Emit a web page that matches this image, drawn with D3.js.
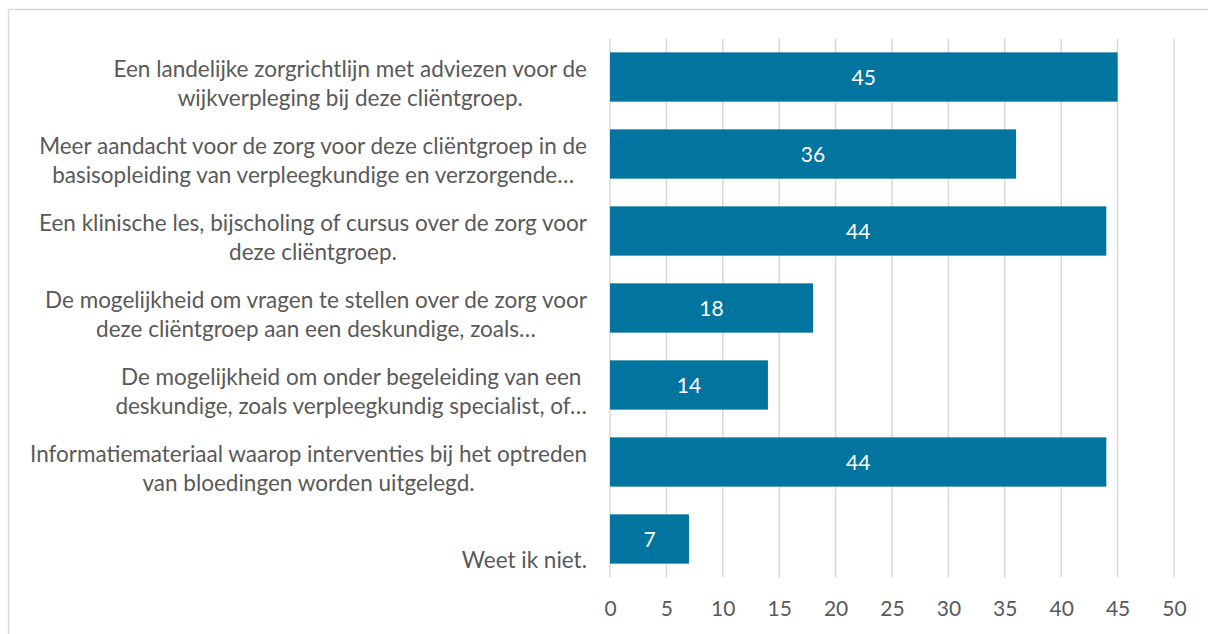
<!DOCTYPE html>
<html>
<head>
<meta charset="utf-8">
<script src="https://cdn.jsdelivr.net/npm/d3@7"></script>
<style>
  body { margin: 0; background: #fff; }
  text { font-family: Lato, "Open Sans", sans-serif; }
</style>
</head>
<body>
<div id="chart"></div>
<script>
// categories, each one as its wrapped lines
var categories = [
  ["Een landelijke zorgrichtlijn met adviezen voor de", "wijkverpleging bij deze cliëntgroep."],
  ["Meer aandacht voor de zorg voor deze cliëntgroep in de", "basisopleiding van verpleegkundige en verzorgende…"],
  ["Een klinische les, bijscholing of cursus over de zorg voor", "deze cliëntgroep."],
  ["De mogelijkheid om vragen te stellen over de zorg voor", "deze cliëntgroep aan een deskundige, zoals…"],
  ["De mogelijkheid om onder begeleiding van een", "deskundige, zoals verpleegkundig specialist, of…"],
  ["Informatiemateriaal waarop interventies bij het optreden", "van bloedingen worden uitgelegd."],
  ["Weet ik niet."]
];
var values = [45, 36, 44, 18, 14, 44, 7];
var xTicks = [0, 5, 10, 15, 20, 25, 30, 35, 40, 45, 50];

var width = 1208, height = 634;
var margin = {top: 38.5, right: 34, bottom: 56.5, left: 610};

var svg = d3.select("#chart")
  .append("svg")
    .attr("width", width)
    .attr("height", height);

// chart border (only left and top are visible in the frame)
svg.append("rect")
  .attr("x", 8.5)
  .attr("y", 9.5)
  .attr("width", 1300)
  .attr("height", 700)
  .attr("fill", "none")
  .attr("stroke", "#d9d9d9")
  .attr("stroke-width", 1.5);

var x = d3.scaleLinear()
  .domain([0, 50])
  .range([margin.left, width - margin.right]);

var y = d3.scaleBand()
  .domain(d3.range(categories.length))
  .range([margin.top, height - margin.bottom])
  .paddingInner(0.36)
  .paddingOuter(0.18);

// gridlines
svg.append("g")
  .selectAll("line")
  .data(xTicks)
  .enter()
  .append("line")
    .attr("x1", function(d) { return x(d); })
    .attr("x2", function(d) { return x(d); })
    .attr("y1", margin.top)
    .attr("y2", height - margin.bottom)
    .attr("stroke", "#d9d9d9")
    .attr("stroke-width", 1.5);

// X axis labels
var xAxis = svg.append("g")
  .attr("transform", "translate(0," + (height - margin.bottom) + ")")
  .call(d3.axisBottom(x).tickValues(xTicks).tickSize(0).tickPadding(24));
xAxis.select(".domain").remove();
xAxis.selectAll("text")
  .attr("fill", "#595959")
  .style("font-family", "Lato, sans-serif")
  .style("font-size", "21px");

// bars
svg.selectAll("rect.bar")
  .data(values)
  .enter()
  .append("rect")
    .attr("class", "bar")
    .attr("x", x(0))
    .attr("y", function(d, i) { return y(i); })
    .attr("width", function(d) { return x(d) - x(0); })
    .attr("height", y.bandwidth())
    .attr("fill", "#01749f");

// value labels
svg.selectAll("text.value")
  .data(values)
  .enter()
  .append("text")
    .attr("class", "value")
    .attr("x", function(d) { return (x(0) + x(d)) / 2; })
    .attr("y", function(d, i) { return y(i) + y.bandwidth() / 2; })
    .attr("dy", "0.36em")
    .attr("text-anchor", "middle")
    .attr("fill", "#fff")
    .style("font-size", "21px")
    .text(function(d) { return d; });

// category labels: block right aligned, lines centred in the block
var labelRight = x(0) - 23;
var lineHeight = 29.5;
categories.forEach(function(lines, i) {
  var g = svg.append("g").attr("class", "cat");
  var mid = y(i) + y.bandwidth() / 2;
  var texts = lines.map(function(line, j) {
    return g.append("text")
      .attr("y", mid + 29 - (lines.length - 1 - j) * lineHeight)
      .attr("text-anchor", "middle")
      .attr("fill", "#595959")
      .style("font-size", "22.5px")
      .text(line);
  });
  var blockW = d3.max(texts, function(t) { return t.node().getComputedTextLength(); });
  texts.forEach(function(t) { t.attr("x", labelRight - blockW / 2); });
});
</script>
</body>
</html>
